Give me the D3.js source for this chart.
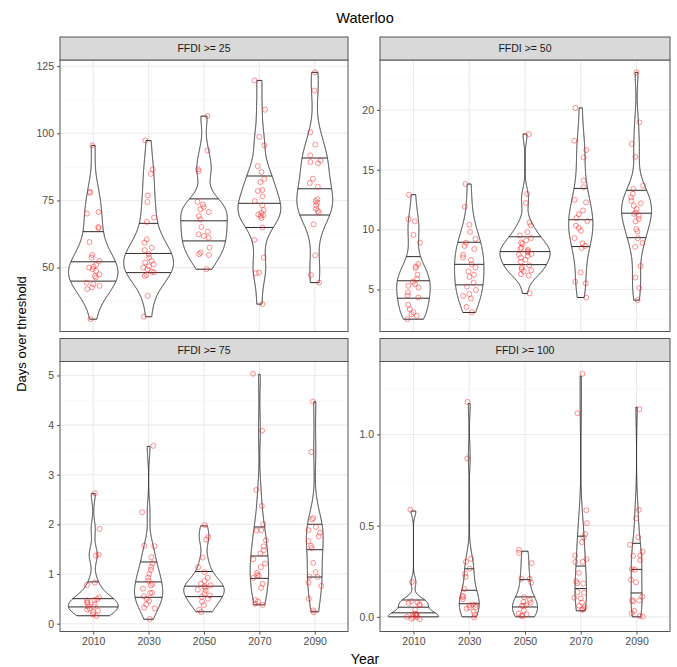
<!DOCTYPE html>
<html>
<head>
<meta charset="utf-8">
<script src="https://cdn.jsdelivr.net/npm/d3@7"></script>
<style>
  body { margin: 0; background: #fff; }
  svg { display: block; font-family: "Liberation Sans", Arial, sans-serif; }
</style>
</head>
<body>
<svg id="chart" width="677" height="667"></svg>
<script>
// ---- data -------------------------------------------------------------
const years = ["2010", "2030", "2050", "2070", "2090"];
const facetLabels = ["FFDI >= 25", "FFDI >= 50", "FFDI >= 75", "FFDI >= 100"];

// days per year over each FFDI threshold, one list per year group
const ffdi25 = [
  [95.5, 78.2, 77.9, 70.7, 70.1, 65.1, 64.7, 59.5, 54.7, 53.7, 52.5, 51.0, 50.4, 50.0, 49.4, 48.8, 47.5, 46.9, 46.3, 44.4, 43.8, 43.2, 42.6, 42.0, 30.8],
  [97.3, 86.6, 84.9, 76.9, 74.4, 68.6, 67.0, 60.5, 59.3, 57.4, 56.5, 55.0, 53.7, 52.5, 51.9, 51.2, 50.5, 50.0, 49.4, 48.5, 48.2, 47.3, 46.9, 39.5, 31.7],
  [106.4, 93.6, 86.6, 85.9, 74.5, 73.5, 72.5, 71.7, 70.7, 69.2, 68.0, 65.1, 63.4, 62.4, 61.8, 61.1, 57.4, 55.6, 55.0, 54.7, 49.4],
  [119.7, 108.8, 98.7, 95.5, 87.8, 85.6, 83.0, 81.8, 78.9, 78.5, 76.5, 74.8, 73.2, 71.4, 70.4, 69.8, 69.5, 69.2, 68.4, 64.9, 60.3, 53.7, 48.1, 47.9, 36.4],
  [122.7, 115.9, 100.4, 95.8, 91.8, 89.9, 89.3, 88.8, 83.1, 81.5, 80.1, 75.4, 74.8, 74.2, 73.2, 71.9, 71.1, 70.5, 66.1, 54.6, 47.2, 44.4]
];
const ffdi50 = [
  [12.92, 10.88, 10.69, 9.55, 8.90, 7.12, 6.90, 6.79, 6.23, 5.87, 5.64, 5.45, 5.30, 5.17, 4.75, 4.50, 4.33, 3.72, 3.36, 3.08, 2.94, 2.80, 2.52],
  [13.81, 11.91, 10.41, 9.82, 9.21, 8.90, 8.65, 8.38, 7.90, 7.68, 7.46, 7.12, 6.84, 6.50, 6.23, 6.06, 5.60, 5.23, 4.95, 4.61, 4.45, 4.25, 3.55, 3.08],
  [17.99, 12.98, 12.22, 10.60, 10.33, 9.80, 9.50, 9.30, 9.10, 8.93, 8.80, 8.50, 8.38, 8.30, 8.18, 8.10, 7.96, 7.90, 7.80, 7.68, 7.50, 7.30, 7.00, 6.84, 6.70, 6.60, 6.51, 6.29, 6.15, 4.67],
  [20.17, 17.43, 16.65, 16.04, 14.09, 13.53, 12.47, 12.28, 11.58, 11.30, 10.97, 10.69, 10.33, 10.13, 9.91, 9.30, 8.85, 8.65, 8.46, 6.42, 5.64, 5.50, 4.33],
  [23.14, 18.96, 17.15, 16.09, 13.67, 13.39, 12.98, 12.69, 12.42, 12.20, 12.00, 11.72, 11.44, 11.30, 11.16, 10.88, 10.69, 10.05, 9.85, 9.30, 8.90, 8.57, 6.98, 6.00, 5.12, 4.11]
];
const ffdi75 = [
  [2.62, 1.91, 1.39, 1.38, 0.83, 0.79, 0.53, 0.51, 0.48, 0.46, 0.43, 0.40, 0.38, 0.36, 0.33, 0.31, 0.28, 0.26, 0.23, 0.19, 0.16],
  [3.57, 2.24, 1.57, 1.56, 1.34, 1.22, 1.15, 1.08, 0.99, 0.93, 0.86, 0.79, 0.76, 0.69, 0.63, 0.62, 0.55, 0.51, 0.45, 0.40, 0.33, 0.31, 0.09],
  [1.97, 1.76, 1.69, 1.33, 1.15, 1.03, 0.92, 0.85, 0.80, 0.77, 0.74, 0.72, 0.69, 0.66, 0.62, 0.57, 0.53, 0.49, 0.44, 0.36, 0.28, 0.24],
  [5.02, 3.90, 2.69, 2.38, 2.00, 1.89, 1.86, 1.69, 1.56, 1.48, 1.43, 1.29, 1.21, 1.13, 1.03, 0.99, 0.96, 0.93, 0.79, 0.73, 0.49, 0.46, 0.40, 0.38],
  [4.47, 3.47, 2.14, 2.09, 1.96, 1.89, 1.82, 1.76, 1.66, 1.57, 1.52, 1.22, 1.04, 0.96, 0.93, 0.83, 0.76, 0.51, 0.28, 0.24]
];
const ffdi100 = [
  [0.58, 0.19, 0.09, 0.08, 0.08, 0.07, 0.07, 0.05, 0, 0, 0, 0, 0, 0, 0, 0, 0, 0],
  [1.17, 0.88, 0.32, 0.29, 0.26, 0.25, 0.22, 0.15, 0.12, 0.105, 0.094, 0.082, 0.07, 0.064, 0.058, 0.054, 0.045, 0.033, 0, 0],
  [0.36, 0.34, 0.29, 0.22, 0.20, 0.196, 0.11, 0.09, 0.08, 0.073, 0.062, 0.055, 0.051, 0.04, 0.027, 0.015, 0.004, 0],
  [1.32, 1.12, 0.57, 0.50, 0.46, 0.44, 0.41, 0.34, 0.32, 0.30, 0.29, 0.24, 0.21, 0.19, 0.18, 0.14, 0.12, 0.11, 0.094, 0.076, 0.054, 0.05, 0.04, 0.033],
  [1.15, 0.60, 0.55, 0.435, 0.40, 0.348, 0.341, 0.323, 0.296, 0.263, 0.25, 0.209, 0.199, 0.105, 0.098, 0.087, 0.076, 0.046, 0.033, 0.008, 0]
];

const ticks25 = [50, 75, 100, 125];
const ticks50 = [5, 10, 15, 20];
const ticks75 = [0, 1, 2, 3, 4, 5];
const ticks100 = [0, 0.5, 1.0];
const quantileProbs = [0.25, 0.5, 0.75];

// ---- layout -----------------------------------------------------------
const svg = d3.select("#chart");
const cols = [{ x0: 60, x1: 348 }, { x0: 380, x1: 670 }];
const rows = [{ s0: 37, y0: 60, y1: 331.5 }, { s0: 338.5, y0: 361.5, y1: 631.5 }];

const panels = [
  { label: facetLabels[0], data: ffdi25, ticks: ticks25, fmt: d3.format("d"), col: 0, row: 0 },
  { label: facetLabels[1], data: ffdi50, ticks: ticks50, fmt: d3.format("d"), col: 1, row: 0 },
  { label: facetLabels[2], data: ffdi75, ticks: ticks75, fmt: d3.format("d"), col: 0, row: 1 },
  { label: facetLabels[3], data: ffdi100, ticks: ticks100, fmt: d3.format(".1f"), col: 1, row: 1 }
];

// ---- kernel density helpers (Gaussian kernel, Silverman bandwidth) -----
function quantile7(sorted, p) {
  const h = (sorted.length - 1) * p, lo = Math.floor(h), hi = Math.ceil(h);
  return sorted[lo] + (h - lo) * (sorted[hi] - sorted[lo]);
}
function bwNrd0(v) {
  const s = v.slice().sort(d3.ascending);
  const sd = d3.deviation(s);
  const iqr = quantile7(s, 0.75) - quantile7(s, 0.25);
  let lo = Math.min(sd, iqr / 1.34);
  if (!(lo > 0)) lo = sd || Math.abs(s[0]) || 1;
  return 0.9 * lo * Math.pow(s.length, -0.2);
}
function ydensity(v) {
  const n = v.length, bw = bwNrd0(v);
  const lo = d3.min(v), hi = d3.max(v), m = 512;
  const pts = [];
  for (let i = 0; i < m; i++) {
    const y = lo + (hi - lo) * i / (m - 1);
    let s = 0;
    for (const x of v) { const z = (y - x) / bw; s += Math.exp(-0.5 * z * z); }
    pts.push({ y, d: s / (n * bw * Math.sqrt(2 * Math.PI)) });
  }
  return pts;
}
function interp(xs, ys, x) {
  if (x <= xs[0]) return ys[0];
  for (let i = 1; i < xs.length; i++) {
    if (x <= xs[i]) {
      const t = xs[i] === xs[i - 1] ? 0 : (x - xs[i - 1]) / (xs[i] - xs[i - 1]);
      return ys[i - 1] + t * (ys[i] - ys[i - 1]);
    }
  }
  return ys[ys.length - 1];
}

// ---- title & axis titles ----------------------------------------------
svg.append("text").attr("x", 365).attr("y", 23).attr("text-anchor", "middle")
  .attr("font-size", 14.5).attr("fill", "#000").text("Waterloo");
svg.append("text").attr("x", 365).attr("y", 664).attr("text-anchor", "middle")
  .attr("font-size", 14).attr("fill", "#000").text("Year");
svg.append("text").attr("transform", "translate(26,334) rotate(-90)").attr("text-anchor", "middle")
  .attr("font-size", 13).attr("fill", "#000").text("Days over threshold");

const jitter = d3.randomLcg(0.4217);

panels.forEach(p => {
  const c = cols[p.col], r = rows[p.row];
  const g = svg.append("g");

  // discrete x positions with 0.6 units of padding at each end
  const unit = (c.x1 - c.x0) / (years.length + 0.2);
  const xc = d => c.x0 + (0.6 + years.indexOf(d)) * unit;

  // jittered points
  const pts = [];
  p.data.forEach((vals, gi) => vals.forEach(v => {
    const dx = (jitter() * 2 - 1) * 0.12;
    const dy = (jitter() * 2 - 1) * 0.015;
    pts.push({ year: years[gi], v, jx: dx, jy: v + dy });
  }));

  const ext = d3.extent(pts.map(d => d.jy).concat(p.data.flat()));
  const pad = (ext[1] - ext[0]) * 0.05;
  const y = d3.scaleLinear().domain([ext[0] - pad, ext[1] + pad]).range([r.y1, r.y0]);

  // background grid
  const step = p.ticks[1] - p.ticks[0];
  const minor = [];
  for (let t = p.ticks[0] - step / 2; t <= p.ticks[p.ticks.length - 1] + step; t += step) minor.push(t);
  const dom = y.domain();
  g.append("rect").attr("x", c.x0).attr("y", r.y0).attr("width", c.x1 - c.x0).attr("height", r.y1 - r.y0).attr("fill", "#fff");
  g.selectAll(".minor").data(minor.filter(t => t > dom[0] && t < dom[1])).join("line")
    .attr("x1", c.x0).attr("x2", c.x1).attr("y1", d => y(d)).attr("y2", d => y(d))
    .attr("stroke", "#f3f3f3").attr("stroke-width", 0.6);
  g.selectAll(".major").data(p.ticks).join("line")
    .attr("x1", c.x0).attr("x2", c.x1).attr("y1", d => y(d)).attr("y2", d => y(d))
    .attr("stroke", "#ebebeb").attr("stroke-width", 1.1);
  g.selectAll(".vgrid").data(years).join("line")
    .attr("x1", d => xc(d)).attr("x2", d => xc(d)).attr("y1", r.y0).attr("y2", r.y1)
    .attr("stroke", "#ebebeb").attr("stroke-width", 1.1);

  // violins, area-scaled within the panel
  const dens = p.data.map(v => ydensity(v));
  const maxD = d3.max(dens.flat(), d => d.d);
  const half = 0.45 * unit;
  dens.forEach((dd, gi) => {
    const cx = xc(years[gi]);
    const line = d3.line().x(d => d[0]).y(d => d[1]);
    const left = dd.map(d => [cx - d.d / maxD * half, y(d.y)]);
    const right = dd.slice().reverse().map(d => [cx + d.d / maxD * half, y(d.y)]);
    g.append("path").attr("d", line(left.concat(right)) + "Z")
      .attr("fill", "#fff").attr("stroke", "#2b2b2b").attr("stroke-width", 1);

    // quantiles taken from the density's cumulative curve
    const tot = d3.sum(dd, d => d.d);
    let acc = 0;
    const ecdf = dd.map(d => (acc += d.d) / tot);
    const ys = dd.map(d => d.y), ws = dd.map(d => d.d / maxD);
    quantileProbs.forEach(q => {
      const qy = interp(ecdf, ys, q);
      const w = interp(ys, ws, qy) * half;
      g.append("line").attr("x1", cx - w).attr("x2", cx + w).attr("y1", y(qy)).attr("y2", y(qy))
        .attr("stroke", "#2b2b2b").attr("stroke-width", 1);
    });
  });

  // jittered observations
  g.selectAll(".pt").data(pts).join("circle")
    .attr("cx", d => xc(d.year) + d.jx * unit).attr("cy", d => y(d.jy)).attr("r", 2.5)
    .attr("fill", "none").attr("stroke", "#ff1a1a").attr("stroke-opacity", 0.55).attr("stroke-width", 0.9);

  // panel border
  g.append("rect").attr("x", c.x0).attr("y", r.y0).attr("width", c.x1 - c.x0).attr("height", r.y1 - r.y0)
    .attr("fill", "none").attr("stroke", "#555").attr("stroke-width", 1);

  // strip
  g.append("rect").attr("x", c.x0).attr("y", r.s0).attr("width", c.x1 - c.x0).attr("height", r.y0 - r.s0)
    .attr("fill", "#d9d9d9").attr("stroke", "#555").attr("stroke-width", 1);
  g.append("text").attr("x", (c.x0 + c.x1) / 2).attr("y", (r.s0 + r.y0) / 2 + 3.8).attr("text-anchor", "middle")
    .attr("font-size", 10.5).attr("fill", "#1a1a1a").text(p.label);

  // y axis
  const yAxis = d3.axisLeft(y).tickValues(p.ticks).tickFormat(p.fmt).tickSize(3).tickPadding(3);
  const ya = g.append("g").attr("transform", `translate(${c.x0},0)`).call(yAxis);
  ya.select(".domain").remove();
  ya.selectAll("line").attr("stroke", "#555");
  ya.selectAll("text").attr("font-size", 10.5).attr("fill", "#4d4d4d").attr("font-family", "Liberation Sans, Arial, sans-serif");

  // x axis on the bottom row only
  if (p.row === 1) {
    const xs = d3.scalePoint().domain(years).range([xc(years[0]), xc(years[4])]);
    const xAxis = d3.axisBottom(xs).tickSize(3).tickPadding(3);
    const xa = g.append("g").attr("transform", `translate(0,${r.y1})`).call(xAxis);
    xa.select(".domain").remove();
    xa.selectAll("line").attr("stroke", "#555");
    xa.selectAll("text").attr("font-size", 10.5).attr("fill", "#4d4d4d").attr("font-family", "Liberation Sans, Arial, sans-serif");
  }
});
</script>
</body>
</html>
